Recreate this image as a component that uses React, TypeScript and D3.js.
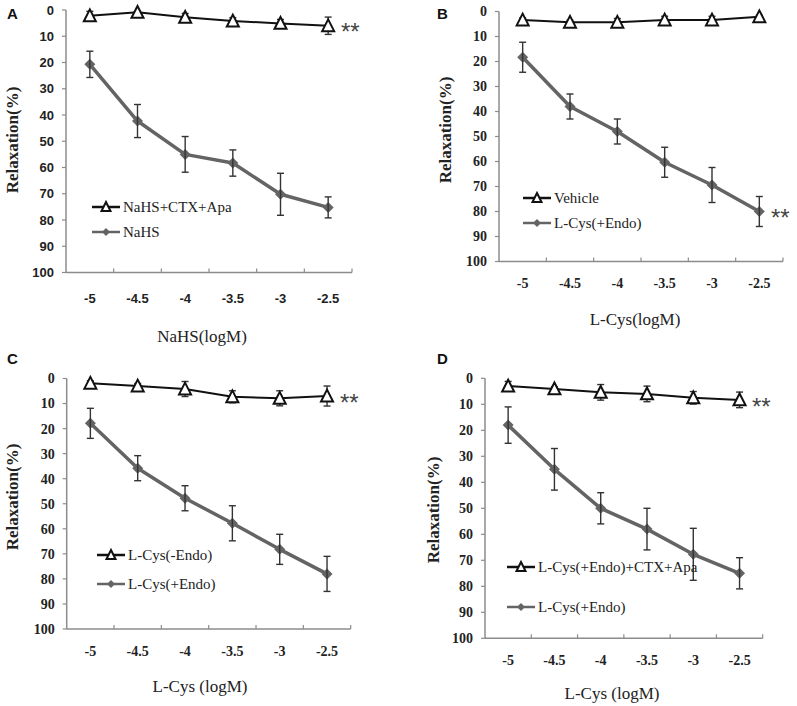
import React from "react";
import * as d3 from "d3";

const categories = ["-5", "-4.5", "-4", "-3.5", "-3", "-2.5"];
const yTicks = [0, 10, 20, 30, 40, 50, 60, 70, 80, 90, 100];

// Panel A
const aTriName = "NaHS+CTX+Apa";
const aTriMean = [2.2, 0.9, 2.8, 4.2, 5.1, 6.0];
const aTriErr = [1.7, 0, 1.5, 1.3, 1.5, 3.3];
const aDiaName = "NaHS";
const aDiaMean = [20.7, 42.3, 55, 58.3, 70.2, 75.2];
const aDiaErr = [5, 6.3, 6.8, 5, 8, 4];

// Panel B
const bTriName = "Vehicle";
const bTriMean = [3.4, 4.3, 4.3, 3.4, 3.4, 2.1];
const bTriErr = [0.8, 0.8, 1.5, 1.5, 1.5, 0.6];
const bDiaName = "L-Cys(+Endo)";
const bDiaMean = [18.3, 38, 48, 60.3, 69.4, 80];
const bDiaErr = [6, 5, 5, 6, 7, 6];

// Panel C
const cTriName = "L-Cys(-Endo)";
const cTriMean = [1.9, 3, 4.2, 7.3, 7.9, 7];
const cTriErr = [1, 1, 3, 2.4, 3, 4];
const cDiaName = "L-Cys(+Endo)";
const cDiaMean = [17.9, 35.8, 47.8, 57.8, 68.2, 78];
const cDiaErr = [6, 5, 5, 7, 6, 7];

// Panel D
const dTriName = "L-Cys(+Endo)+CTX+Apa";
const dTriMean = [3, 4.1, 5.4, 6, 7.5, 8.3];
const dTriErr = [1.8, 0.8, 3, 3, 2.4, 3];
const dDiaName = "L-Cys(+Endo)";
const dDiaMean = [18, 35, 50, 58, 67.7, 75];
const dDiaErr = [7, 8, 6, 8, 10, 6];

const SERIF = "'Liberation Serif', 'Times New Roman', serif";
const SANS = "'Liberation Sans', Arial, sans-serif";
const GRAY = "#646464";
const AXIS = "#8c8c8c";

type PanelCfg = {
  label: string;
  labelX: number;
  labelY: number;
  x0: number;
  x1: number;
  yTop: number;
  yBot: number;
  tickFont: string;
  tickSize: number;
  xLabelY: number;
  xTitle: string;
  xTitleX: number;
  xTitleY: number;
  yTitleX: number;
  yTitleY: number;
  legX: number;
  legY1: number;
  legY2: number;
  starX: number;
  starY: number;
  triName: string;
  triMean: number[];
  triErr: number[];
  diaName: string;
  diaMean: number[];
  diaErr: number[];
};

function triPath(cx: number, cy: number, s: number) {
  const h = s * 0.9;
  return `M${cx},${cy - h / 2 - 1}L${cx + s / 2},${cy + h / 2}L${cx - s / 2},${cy + h / 2}Z`;
}
function diaPath(cx: number, cy: number, s: number) {
  const r = s / 2;
  return `M${cx},${cy - r}L${cx + r},${cy}L${cx},${cy + r}L${cx - r},${cy}Z`;
}

function Panel({ c }: { c: PanelCfg }) {
  const x = d3.scaleBand<string>().domain(categories).range([c.x0, c.x1]).padding(0);
  const y = d3.scaleLinear().domain([0, 100]).range([c.yTop, c.yBot]);
  const bw = x.bandwidth();
  const cx = (k: string) => (x(k) as number) + bw / 2;
  const line = d3
    .line<number>()
    .x((_, i) => cx(categories[i]))
    .y((v) => y(v));

  const errBars = (mean: number[], err: number[], key: string) =>
    mean.map((m, i) => {
      if (!err[i]) return null;
      const xc = cx(categories[i]);
      const t = y(m - err[i]);
      const b = y(m + err[i]);
      return (
        <g key={key + i} stroke="#333" strokeWidth={1.4}>
          <line x1={xc} x2={xc} y1={t} y2={b} />
          <line x1={xc - 3.5} x2={xc + 3.5} y1={t} y2={t} />
          <line x1={xc - 3.5} x2={xc + 3.5} y1={b} y2={b} />
        </g>
      );
    });

  return (
    <g>
      <text x={c.labelX} y={c.labelY} fontFamily={SANS} fontWeight="bold" fontSize={15} fill="#111">
        {c.label}
      </text>
      {/* y axis */}
      <line x1={c.x0} x2={c.x0} y1={c.yTop} y2={c.yBot} stroke={AXIS} strokeWidth={1.5} />
      {yTicks.map((t) => (
        <g key={"yt" + t}>
          <line x1={c.x0 - 4} x2={c.x0} y1={y(t)} y2={y(t)} stroke={AXIS} strokeWidth={1.2} />
          <text
            x={c.x0 - 12}
            y={y(t)}
            dy="0.35em"
            textAnchor="end"
            fontFamily={c.tickFont}
            fontWeight="bold"
            fontSize={c.tickSize}
            fill="#222"
          >
            {t}
          </text>
        </g>
      ))}
      {/* x axis */}
      <line x1={c.x0} x2={c.x1} y1={c.yBot} y2={c.yBot} stroke={AXIS} strokeWidth={1.5} />
      {categories.map((k) => (
        <g key={"xt" + k}>
          <line
            x1={(x(k) as number) + bw}
            x2={(x(k) as number) + bw}
            y1={c.yBot}
            y2={c.yBot - 4}
            stroke={AXIS}
            strokeWidth={1.2}
          />
          <text
            x={cx(k)}
            y={c.xLabelY}
            dy="0.35em"
            textAnchor="middle"
            fontFamily={c.tickFont}
            fontWeight="bold"
            fontSize={c.tickSize}
            fill="#222"
          >
            {k}
          </text>
        </g>
      ))}
      <text
        x={c.xTitleX}
        y={c.xTitleY}
        dy="0.35em"
        textAnchor="middle"
        fontFamily={SERIF}
        fontSize={17}
        fill="#222"
      >
        {c.xTitle}
      </text>
      <text
        transform={`translate(${c.yTitleX},${c.yTitleY}) rotate(-90)`}
        dy="0.35em"
        textAnchor="middle"
        fontFamily={SERIF}
        fontWeight="bold"
        fontSize={17}
        fill="#222"
      >
        Relaxation(%)
      </text>

      {/* diamond series */}
      <path d={line(c.diaMean) || ""} fill="none" stroke={GRAY} strokeWidth={3.5} strokeLinejoin="round" />
      {c.diaMean.map((m, i) => (
        <path key={"dm" + i} d={diaPath(cx(categories[i]), y(m), 11)} fill={GRAY} />
      ))}
      {errBars(c.diaMean, c.diaErr, "de")}

      {/* triangle series */}
      <path d={line(c.triMean) || ""} fill="none" stroke="#111" strokeWidth={2} />
      {errBars(c.triMean, c.triErr, "te")}
      {c.triMean.map((m, i) => (
        <path
          key={"tm" + i}
          d={triPath(cx(categories[i]), y(m), 12)}
          fill="#fff"
          stroke="#111"
          strokeWidth={2}
        />
      ))}

      {/* significance */}
      <text
        x={c.starX}
        y={c.starY + 13}
        fontFamily={SANS}
        fontSize={24}
        fill="#444"
      >
        **
      </text>

      {/* legend */}
      <line x1={c.legX} x2={c.legX + 28} y1={c.legY1} y2={c.legY1} stroke="#111" strokeWidth={2.5} />
      <path d={triPath(c.legX + 14, c.legY1, 9)} fill="#fff" stroke="#111" strokeWidth={2} />
      <text x={c.legX + 31} y={c.legY1} dy="0.35em" fontFamily={SERIF} fontSize={15} fill="#222">
        {c.triName}
      </text>
      <line x1={c.legX} x2={c.legX + 28} y1={c.legY2} y2={c.legY2} stroke={GRAY} strokeWidth={2.5} />
      <path d={diaPath(c.legX + 14, c.legY2, 8)} fill={GRAY} />
      <text x={c.legX + 31} y={c.legY2} dy="0.35em" fontFamily={SERIF} fontSize={15} fill="#222">
        {c.diaName}
      </text>
    </g>
  );
}

const panels: PanelCfg[] = [
  {
    label: "A", labelX: 7, labelY: 19,
    x0: 66, x1: 352, yTop: 10, yBot: 272.5,
    tickFont: SANS, tickSize: 13,
    xLabelY: 298, xTitle: "NaHS(logM)", xTitleX: 202, xTitleY: 336,
    yTitleX: 12, yTitleY: 140,
    legX: 92, legY1: 207, legY2: 232,
    starX: 341, starY: 27,
    triName: aTriName, triMean: aTriMean, triErr: aTriErr,
    diaName: aDiaName, diaMean: aDiaMean, diaErr: aDiaErr,
  },
  {
    label: "B", labelX: 437, labelY: 19,
    x0: 499, x1: 783, yTop: 11.5, yBot: 261.5,
    tickFont: SERIF, tickSize: 14,
    xLabelY: 283, xTitle: "L-Cys(logM)", xTitleX: 635, xTitleY: 319,
    yTitleX: 445, yTitleY: 130,
    legX: 523, legY1: 198, legY2: 223,
    starX: 771, starY: 213,
    triName: bTriName, triMean: bTriMean, triErr: bTriErr,
    diaName: bDiaName, diaMean: bDiaMean, diaErr: bDiaErr,
  },
  {
    label: "C", labelX: 7, labelY: 364,
    x0: 66.7, x1: 350.7, yTop: 378.5, yBot: 629,
    tickFont: SERIF, tickSize: 14,
    xLabelY: 651, xTitle: "L-Cys (logM)", xTitleX: 200, xTitleY: 686,
    yTitleX: 12, yTitleY: 497,
    legX: 97, legY1: 555, legY2: 584,
    starX: 340, starY: 398,
    triName: cTriName, triMean: cTriMean, triErr: cTriErr,
    diaName: cDiaName, diaMean: cDiaMean, diaErr: cDiaErr,
  },
  {
    label: "D", labelX: 437, labelY: 364,
    x0: 485, x1: 762.7, yTop: 378.3, yBot: 638.3,
    tickFont: SERIF, tickSize: 14,
    xLabelY: 660, xTitle: "L-Cys (logM)", xTitleX: 612, xTitleY: 693,
    yTitleX: 433, yTitleY: 510,
    legX: 507, legY1: 567, legY2: 607,
    starX: 752, starY: 402,
    triName: dTriName, triMean: dTriMean, triErr: dTriErr,
    diaName: dDiaName, diaMean: dDiaMean, diaErr: dDiaErr,
  },
];

export default function App() {
  return (
    <svg
      width={797}
      height={706}
      viewBox="0 0 797 706"
      style={{ position: "absolute", left: 0, top: 0, background: "#fff" }}
    >
      <rect x={0} y={0} width={797} height={706} fill="#fff" />
      {panels.map((p) => (
        <Panel key={p.label} c={p} />
      ))}
    </svg>
  );
}
